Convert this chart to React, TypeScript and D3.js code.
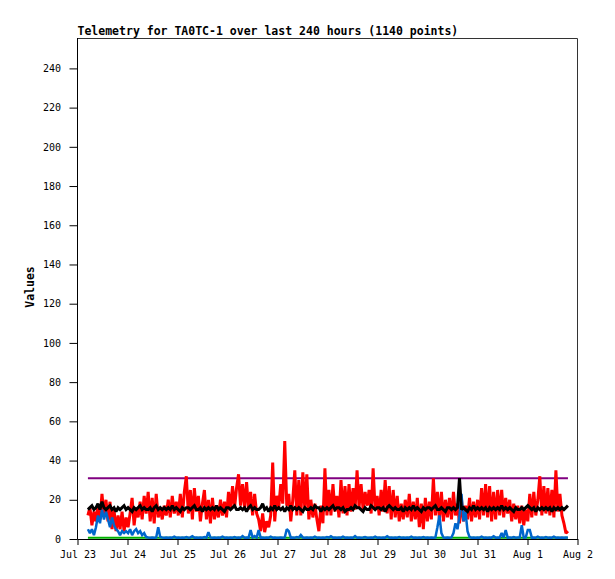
import React, { useEffect, useRef } from 'react';
import * as d3 from 'd3';

// hourly telemetry samples, Jul 23 05:00 -> Aug 1 19:25
const seriesStart = new Date(2024, 6, 23, 5, 0);
const seriesEnd = new Date(2024, 7, 1, 19, 25);

const redValues: number[] = [
    12, 16, 7, 14, 9, 17, 10, 23, 12, 20,
    9, 19, 5, 15, 4, 12, 5, 14, 4, 11,
    6, 13, 21, 7, 16, 11, 19, 10, 22, 13,
    24, 9, 21, 8, 23, 11, 16, 10, 17, 12,
    20, 11, 22, 13, 19, 12, 23, 11, 24, 32,
    13, 25, 10, 26, 14, 22, 9, 18, 25, 10,
    20, 8, 21, 10, 17, 11, 20, 12, 19, 11,
    24, 15, 27, 16, 26, 33, 17, 28, 16, 29,
    15, 24, 12, 23, 13, 10, 4, 13, 3.5, 9,
    6, 12, 39, 9, 22, 16, 28, 18, 50, 17,
    23, 9, 20, 35, 12, 30, 12, 34, 15, 33,
    10, 20, 11, 18, 10, 4, 17, 8, 36, 12,
    25, 12, 28, 14, 22, 11, 30, 13, 27, 12,
    28, 14, 26, 15, 35, 16, 28, 15, 24, 17,
    25, 13, 36, 15, 22, 12, 25, 14, 30, 13,
    27, 10, 25, 11, 22, 9, 18, 10, 20, 11,
    23, 9, 19, 10, 21, 6, 18, 5, 21, 9,
    19, 10, 31, 12, 24, 10, 24, 9, 20, 11,
    21, 10, 24, 12, 18, 8, 20, 9, 17, 10,
    21, 9, 19, 11, 20, 10, 26, 12, 28, 11,
    27, 9, 24, 10, 25, 12, 25, 11, 21, 13,
    20, 9, 18, 10, 17, 8, 17, 7, 15, 9,
    23, 11, 24, 12, 20, 32, 12, 27, 13, 26,
    12, 25, 11, 35, 14, 23, 12, 8, 3, 4,
];

const blackValues: number[] = [
    15, 16, 17, 15, 16, 18, 15, 19, 16, 15,
    16, 17, 15, 16, 14, 16, 15, 16, 17, 15,
    16, 15, 14, 16, 15, 16, 17, 15, 16, 15,
    15, 16, 14, 16, 17, 15, 16, 15, 16, 15,
    16, 15, 17, 15, 16, 15, 14, 16, 15, 16,
    16, 15, 16, 17, 15, 15, 16, 14, 16, 15,
    16, 15, 16, 15, 17, 15, 16, 15, 14, 16,
    16, 15, 16, 17, 15, 15, 16, 15, 16, 14,
    16, 17, 15, 16, 15, 15, 16, 18, 15, 16,
    14, 16, 15, 17, 15, 16, 15, 16, 14, 16,
    15, 17, 15, 16, 15, 16, 15, 14, 16, 15,
    15, 16, 15, 17, 16, 16, 14, 16, 15, 16,
    15, 16, 17, 15, 16, 16, 15, 16, 14, 15,
    15, 16, 15, 17, 16, 16, 15, 14, 16, 15,
    15, 17, 16, 15, 16, 16, 15, 16, 14, 16,
    17, 16, 15, 16, 15, 15, 16, 14, 16, 15,
    16, 15, 17, 15, 16, 15, 14, 16, 15, 16,
    16, 15, 16, 17, 15, 15, 16, 15, 14, 16,
    16, 15, 16, 15, 16, 31, 15, 16, 15, 14,
    16, 15, 17, 15, 16, 15, 16, 15, 16, 14,
    16, 15, 16, 15, 16, 15, 17, 15, 16, 15,
    16, 15, 14, 16, 15, 15, 16, 15, 16, 17,
    16, 15, 16, 14, 16, 15, 16, 15, 16, 15,
    16, 14, 16, 15, 16, 15, 16, 15, 16, 17,
];

const blueValues: number[] = [
    5, 3, 5, 2, 6, 12, 8, 15, 10, 14,
    10, 6, 11, 7, 5, 4, 2, 4, 3, 4,
    3, 5, 2, 4, 5, 3, 4, 2, 3, 1,
    0.8, 0.7, 0.8, 0.7, 0.8, 6, 1, 0.8, 0.7, 0.8,
    0.7, 0.8, 0.7, 1.2, 0.7, 0.8, 0.7, 0.8, 0.7, 1,
    0.7, 0.8, 1.4, 0.7, 0.8, 0.7, 0.8, 0.7, 1, 0.7,
    3.5, 0.8, 0.7, 0.8, 0.7, 0.8, 0.7, 1.2, 0.7, 0.8,
    0.7, 0.8, 0.7, 1, 0.7, 0.8, 0.7, 1.5, 0.7, 0.8,
    0.7, 4.5, 0.8, 1.5, 0.7, 4.5, 0.7, 0.8, 0.7, 0.8,
    0.7, 1.2, 0.7, 0.8, 0.7, 0.7, 0.8, 0.7, 0.8, 5,
    4, 0.7, 0.8, 0.7, 1, 0.7, 2, 0.8, 0.7, 0.8,
    0.7, 0.8, 0.7, 1.2, 0.7, 0.8, 0.7, 0.8, 0.7, 1,
    0.7, 1.4, 0.7, 0.8, 0.7, 0.8, 0.7, 1.2, 0.7, 0.8,
    0.7, 0.8, 0.7, 1.5, 0.7, 0.8, 0.7, 0.8, 1, 0.7,
    0.7, 0.8, 0.7, 1.2, 0.7, 0.8, 0.7, 0.8, 0.7, 1.4,
    0.7, 0.8, 0.7, 0.8, 0.7, 1, 0.7, 0.8, 0.7, 0.8,
    0.7, 1.2, 0.7, 0.8, 0.7, 0.8, 0.7, 1, 0.7, 0.8,
    0.7, 0.8, 0.7, 0.8, 6, 12, 3, 0.8, 0.7, 0.8,
    0.7, 0.8, 3, 8, 5, 12, 23, 9, 14, 4,
    1, 0.7, 0.8, 0.7, 0.8, 0.7, 1.2, 0.7, 0.8, 0.7,
    0.8, 0.7, 1.4, 0.7, 0.8, 0.7, 3, 0.8, 4.6, 0.7,
    0.8, 0.7, 1, 0.7, 0.8, 0.8, 7, 0.7, 0.8, 4.6,
    4.6, 0.7, 0.8, 0.7, 1.2, 0.7, 0.8, 0.7, 1, 0.7,
    0.8, 0.7, 1.2, 0.7, 0.8, 0.7, 0.8, 0.7, 0.8, 0.7,
];

// green channel is sampled more coarsely
const greenValues: number[] = [
    0.7, 0.7, 0.7, 0.7, 0.7, 0.7, 0.7, 0.7, 0.7, 0.7,
    0.7, 0.7, 0.7, 0.7, 0.7, 0.7, 0.7, 0.7, 0.7, 0.7,
    0.7, 0.7, 0.7, 0.7, 0.7, 0.7, 0.7, 0.7, 0.7, 0.7,
    0.7, 0.7, 0.7, 0.7, 0.7, 0.7, 0.7, 0.7, 0.7, 0.7,
    0.7, 0.7, 0.7, 0.7, 0.7, 0.7, 0.7, 0.7,
];

const limitValues: number[] = [31, 31];

const yTickValues = [0, 20, 40, 60, 80, 100, 120, 140, 160, 180, 200, 220, 240];

const App: React.FC = () => {
    const svgRef = useRef<SVGSVGElement | null>(null);

    useEffect(() => {
        const width = 615;
        const height = 579;
        const margin = { top: 38, right: 37.5, bottom: 40, left: 77.5 };
        const monoFont = '"DejaVu Sans Mono", monospace';

        const svg = d3.select(svgRef.current)
            .attr('width', width)
            .attr('height', height);
        svg.selectAll('*').remove();

        const x = d3.scaleTime()
            .domain([new Date(2024, 6, 23), new Date(2024, 7, 2)])
            .range([margin.left, width - margin.right]);
        const y = d3.scaleLinear()
            .domain([0, 255.5])
            .range([height - margin.bottom, margin.top]);

        const toPoints = (vals: number[]) => {
            const span = seriesEnd.getTime() - seriesStart.getTime();
            return vals.map((v, i) => ({
                t: new Date(seriesStart.getTime() + (span * i) / (vals.length - 1)),
                v,
            }));
        };

        const line = d3.line<{ t: Date; v: number }>()
            .x(d => x(d.t))
            .y(d => y(d.v));

        // frame (top / right)
        svg.append('path')
            .attr('d', `M${margin.left},${margin.top + 0.5}H${width - margin.right}V${height - margin.bottom}`)
            .attr('fill', 'none')
            .attr('stroke', '#333')
            .attr('stroke-width', 1);

        const series = [
            { vals: limitValues, color: '#800080', w: 2 },
            { vals: redValues, color: '#ff0000', w: 3 },
            { vals: greenValues, color: '#00b000', w: 2 },
            { vals: blueValues, color: '#0066cc', w: 2.5 },
            { vals: blackValues, color: '#000000', w: 3 },
        ];

        series.forEach(s => {
            svg.append('path')
                .datum(toPoints(s.vals))
                .attr('d', line)
                .attr('fill', 'none')
                .attr('stroke', s.color)
                .attr('stroke-width', s.w)
                .attr('stroke-linejoin', 'miter')
                .attr('stroke-miterlimit', 2);
        });

        const yAxis = svg.append('g')
            .attr('transform', `translate(${margin.left},0)`)
            .call(d3.axisLeft(y).tickValues(yTickValues).tickSize(8).tickSizeOuter(0).tickPadding(8.5));
        yAxis.select('.domain').attr('d', `M0,${margin.top}V${height - margin.bottom + 0.5}`);

        const xAxis = svg.append('g')
            .attr('transform', `translate(0,${height - margin.bottom})`)
            .call(d3.axisBottom(x)
                .ticks(d3.timeDay.every(1))
                .tickFormat(d => d3.timeFormat('%b %-d')(d as Date))
                .tickSize(6)
                .tickSizeOuter(0)
                .tickPadding(6));

        [yAxis, xAxis].forEach(g => {
            g.attr('font-family', monoFont).attr('font-size', 10);
            g.selectAll('line').attr('stroke', '#000');
            g.select('.domain').attr('stroke', '#000');
            g.selectAll('text').attr('fill', '#000');
        });

        svg.append('text')
            .attr('x', margin.left)
            .attr('y', 34.5)
            .attr('font-family', monoFont)
            .attr('font-weight', 'bold')
            .attr('font-size', 11.5)
            .text('Telemetry for TA0TC-1 over last 240 hours (1140 points)');

        svg.append('text')
            .attr('transform', `translate(34,287) rotate(-90)`)
            .attr('text-anchor', 'middle')
            .attr('font-family', monoFont)
            .attr('font-weight', 'bold')
            .attr('font-size', 11.5)
            .text('Values');
    }, []);

    return <svg ref={svgRef} style={{ position: 'absolute', left: 0, top: 0, background: '#fff' }}></svg>;
};

export default App;
